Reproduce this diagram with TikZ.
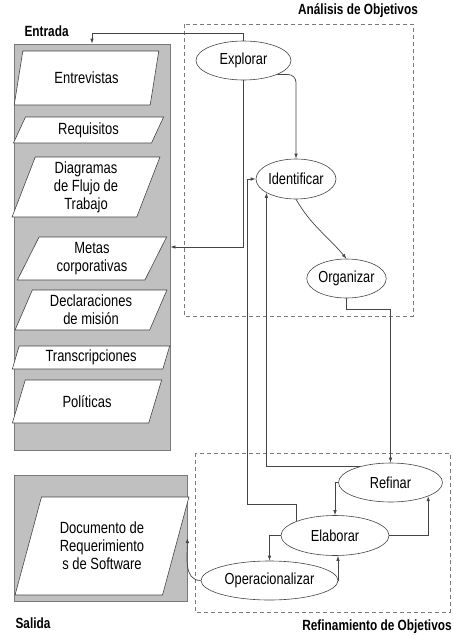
\documentclass[tikz,border=0pt]{standalone}
\usepackage{fontspec}
\setmainfont{Liberation Sans}[FakeStretch=0.8]
\usepackage{xcolor}
\usepackage{tikz}
\usetikzlibrary{shapes.geometric, arrows.meta}

\definecolor{linegray}{HTML}{454545}
\definecolor{panelgray}{HTML}{C0C0C0}
\definecolor{edgegray}{HTML}{7A7A7A}

\tikzset{
  txt/.style={font=\fontsize{16.2}{18}\selectfont, align=center},
  title/.style={font=\bfseries\fontsize{14.8}{16}\selectfont},
  panel/.style={draw=edgegray, fill=panelgray, line width=0.8pt, inner sep=0pt},
  inbox/.style={txt, trapezium, trapezium stretches=true,
    trapezium left angle=#1, trapezium right angle={180-#1},
    draw=linegray, fill=white, line width=0.6pt, inner sep=0pt},
  inbox/.default=68,
  task/.style={txt, font=\fontsize{16}{18}\selectfont, ellipse, draw=linegray, fill=white, line width=0.6pt, inner sep=0pt},
  group/.style={draw=edgegray, line width=0.7pt, dash pattern=on 4pt off 3pt},
  link/.style={draw=linegray, line width=0.7pt, -{Latex[length=5pt,width=3.5pt]}}
}

\begin{document}
\begin{tikzpicture}[x=1pt, y=-1pt]
    \useasboundingbox (0,0) rectangle (453,635);

    % Entrada
    \node[title, anchor=west] (lblentrada) at (21,31) {Entrada};
    \node[panel, minimum width=156, minimum height=406] (entrada) at (92,247) {};
    \node[inbox=70, minimum width=145, minimum height=54] (entrevistas) at (86.5,78) {Entrevistas};
    \node[inbox=69, minimum width=151, minimum height=26] (requisitos) at (88.5,130) {Requisitos};
    \node[inbox=74, minimum width=148, minimum height=60] (diagramas) at (86,187) {Diagramas\\de Flujo de\\Trabajo};
    \node[inbox=66, minimum width=150, minimum height=43] (metas) at (92,258.5) {Metas\\corporativas};
    \node[inbox, minimum width=152, minimum height=40] (declaraciones) at (91,310) {Declaraciones\\de misión};
    \node[inbox=74, minimum width=158, minimum height=23] (transcripciones) at (91,357.5) {Transcripciones};
    \node[inbox=67, minimum width=150, minimum height=43] (politicas) at (87,401.5) {Políticas};

    % Salida
    \node[panel, minimum width=173, minimum height=126] (salida) at (100.5,538) {};
    \node[inbox=69, minimum width=174, minimum height=98] (documento) at (102,546) {Documento de\\Requerimiento\\s de Software};
    \node[title, anchor=west] (lblsalida) at (12,623) {Salida};

    % Analisis de Objetivos
    \draw[group] (184,24) rectangle (413,316);
    \node[title] (lblanalisis) at (358,11) {Análisis de Objetivos};
    \node[task, minimum width=95, minimum height=39] (explorar) at (243.5,60.5) {Explorar};
    \node[task, minimum width=80, minimum height=40] (identificar) at (296,179) {Identificar};
    \node[task, minimum width=75, minimum height=39] (organizar) at (346.5,278.5) {Organizar};

    % Refinamiento de Objetivos
    \draw[group] (195,453) rectangle (450,612);
    \node[title] (lblrefinamiento) at (377,627) {Refinamiento de Objetivos};
    \node[task, minimum width=104, minimum height=39] (refinar) at (390.5,482.5) {Refinar};
    \node[task, minimum width=108, minimum height=40] (elaborar) at (335,535.5) {Elaborar};
    \node[task, minimum width=137, minimum height=39] (operacionalizar) at (269.5,580.5) {Operacionalizar};

    % Connectors
    \draw[link] (explorar.north) -- ++(0,-7) -| (entrada.north);
    \draw[link] (explorar.south) |- ([yshift=11.5]entrada.east |- metas.east);
    \draw[link, rounded corners=8pt] (explorar.south east) -| (identificar.north);
    \draw[link] (identificar.south) to[out=-60, in=130] (organizar.north);
    \draw[link] (organizar.south) -- ++(0,11) -| (refinar.north);
    \draw[link] (refinar.152) -| (identificar.205);
    \draw[link] (elaborar.160) |- ++(-49,-17) |- (identificar.west);
    \draw[link] (refinar.west) -| (elaborar.north);
    \draw[link] (elaborar.east) -| (refinar.-20);
    \draw[link] (elaborar.west) -| (operacionalizar.north);
    \draw[link] (operacionalizar.east) -| ([xshift=3]elaborar.south);
    \draw[link] (operacionalizar.west) to[out=180, in=-90] (salida.east);
\end{tikzpicture}
\end{document}
